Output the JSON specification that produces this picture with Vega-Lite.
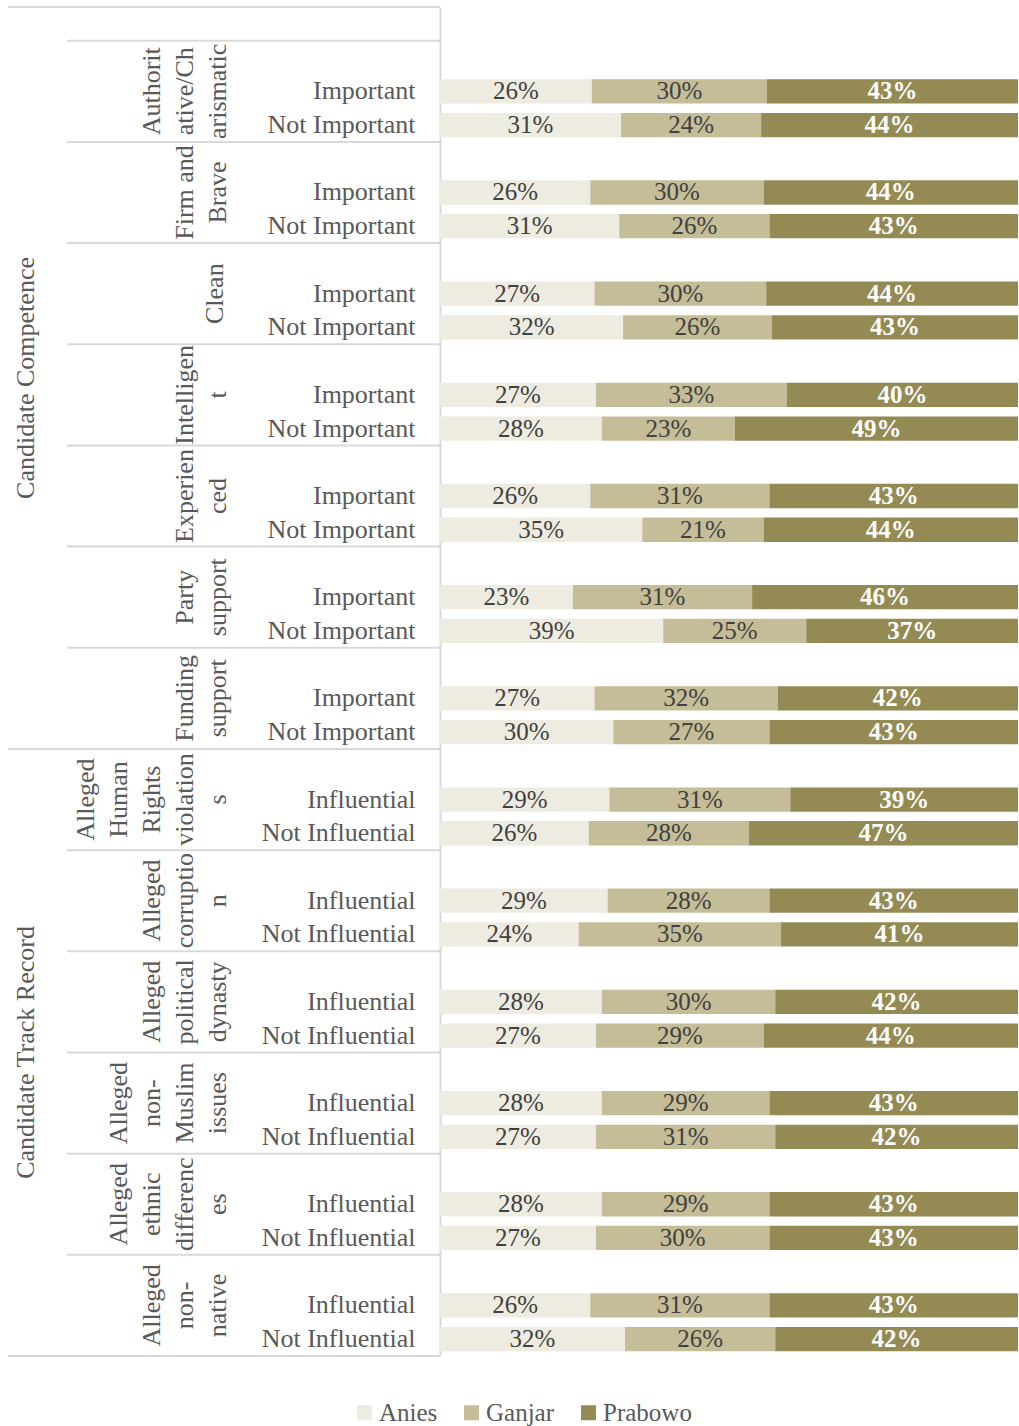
{
  "$schema": "https://vega.github.io/schema/vega-lite/v6.json",
  "width": 578,
  "height": 1349,
  "autosize": {"type": "none"},
  "padding": {"left": 440, "top": 7, "right": 1, "bottom": 70},
  "background": "white",
  "config": {"view": {"stroke": null}, "font": "Liberation Serif"},
  "datasets": {
    "attrs": [
      {"attr": "Authoritative/Charismatic", "label": "Authorit\native/Ch\narismatic", "top": "Authoritative/Charismatic|", "mid": "Authoritative/Charismatic|Important"},
      {"attr": "Firm and Brave", "label": "Firm and\nBrave", "top": "Firm and Brave|", "mid": "Firm and Brave|Important"},
      {"attr": "Clean", "label": "Clean", "top": "Clean|", "mid": "Clean|Important"},
      {"attr": "Intelligent", "label": "Intelligen\nt", "top": "Intelligent|", "mid": "Intelligent|Important"},
      {"attr": "Experienced", "label": "Experien\nced", "top": "Experienced|", "mid": "Experienced|Important"},
      {"attr": "Party support", "label": "Party\nsupport", "top": "Party support|", "mid": "Party support|Important"},
      {"attr": "Funding support", "label": "Funding\nsupport", "top": "Funding support|", "mid": "Funding support|Important"},
      {"attr": "Alleged Human Rights violations", "label": "Alleged\nHuman\nRights\nviolation\ns", "top": "Alleged Human Rights violations|", "mid": "Alleged Human Rights violations|Influential"},
      {"attr": "Alleged corruption", "label": "Alleged\ncorruptio\nn", "top": "Alleged corruption|", "mid": "Alleged corruption|Influential"},
      {"attr": "Alleged political dynasty", "label": "Alleged\npolitical\ndynasty", "top": "Alleged political dynasty|", "mid": "Alleged political dynasty|Influential"},
      {"attr": "Alleged non-Muslim issues", "label": "Alleged\nnon-\nMuslim\nissues", "top": "Alleged non-Muslim issues|", "mid": "Alleged non-Muslim issues|Influential"},
      {"attr": "Alleged ethnic differences", "label": "Alleged\nethnic\ndifferenc\nes", "top": "Alleged ethnic differences|", "mid": "Alleged ethnic differences|Influential"},
      {"attr": "Alleged non-native", "label": "Alleged\nnon-\nnative", "top": "Alleged non-native|", "mid": "Alleged non-native|Influential"}
    ],
    "groups": [
      {"group": "Candidate Competence", "first": "top|", "last": "Funding support|Not Important", "mid": "Intelligent|Important"},
      {"group": "Candidate Track Record", "first": "Alleged Human Rights violations|", "last": "Alleged non-native|Not Influential", "mid": "Alleged non-Muslim issues|"}
    ],
    "bars": [
      {"row": "Authoritative/Charismatic|Important", "cand": "Anies", "v": 0.26},
      {"row": "Authoritative/Charismatic|Important", "cand": "Ganjar", "v": 0.30},
      {"row": "Authoritative/Charismatic|Important", "cand": "Prabowo", "v": 0.43},
      {"row": "Authoritative/Charismatic|Not Important", "cand": "Anies", "v": 0.31},
      {"row": "Authoritative/Charismatic|Not Important", "cand": "Ganjar", "v": 0.24},
      {"row": "Authoritative/Charismatic|Not Important", "cand": "Prabowo", "v": 0.44},
      {"row": "Firm and Brave|Important", "cand": "Anies", "v": 0.26},
      {"row": "Firm and Brave|Important", "cand": "Ganjar", "v": 0.30},
      {"row": "Firm and Brave|Important", "cand": "Prabowo", "v": 0.44},
      {"row": "Firm and Brave|Not Important", "cand": "Anies", "v": 0.31},
      {"row": "Firm and Brave|Not Important", "cand": "Ganjar", "v": 0.26},
      {"row": "Firm and Brave|Not Important", "cand": "Prabowo", "v": 0.43},
      {"row": "Clean|Important", "cand": "Anies", "v": 0.27},
      {"row": "Clean|Important", "cand": "Ganjar", "v": 0.30},
      {"row": "Clean|Important", "cand": "Prabowo", "v": 0.44},
      {"row": "Clean|Not Important", "cand": "Anies", "v": 0.32},
      {"row": "Clean|Not Important", "cand": "Ganjar", "v": 0.26},
      {"row": "Clean|Not Important", "cand": "Prabowo", "v": 0.43},
      {"row": "Intelligent|Important", "cand": "Anies", "v": 0.27},
      {"row": "Intelligent|Important", "cand": "Ganjar", "v": 0.33},
      {"row": "Intelligent|Important", "cand": "Prabowo", "v": 0.40},
      {"row": "Intelligent|Not Important", "cand": "Anies", "v": 0.28},
      {"row": "Intelligent|Not Important", "cand": "Ganjar", "v": 0.23},
      {"row": "Intelligent|Not Important", "cand": "Prabowo", "v": 0.49},
      {"row": "Experienced|Important", "cand": "Anies", "v": 0.26},
      {"row": "Experienced|Important", "cand": "Ganjar", "v": 0.31},
      {"row": "Experienced|Important", "cand": "Prabowo", "v": 0.43},
      {"row": "Experienced|Not Important", "cand": "Anies", "v": 0.35},
      {"row": "Experienced|Not Important", "cand": "Ganjar", "v": 0.21},
      {"row": "Experienced|Not Important", "cand": "Prabowo", "v": 0.44},
      {"row": "Party support|Important", "cand": "Anies", "v": 0.23},
      {"row": "Party support|Important", "cand": "Ganjar", "v": 0.31},
      {"row": "Party support|Important", "cand": "Prabowo", "v": 0.46},
      {"row": "Party support|Not Important", "cand": "Anies", "v": 0.39},
      {"row": "Party support|Not Important", "cand": "Ganjar", "v": 0.25},
      {"row": "Party support|Not Important", "cand": "Prabowo", "v": 0.37},
      {"row": "Funding support|Important", "cand": "Anies", "v": 0.27},
      {"row": "Funding support|Important", "cand": "Ganjar", "v": 0.32},
      {"row": "Funding support|Important", "cand": "Prabowo", "v": 0.42},
      {"row": "Funding support|Not Important", "cand": "Anies", "v": 0.30},
      {"row": "Funding support|Not Important", "cand": "Ganjar", "v": 0.27},
      {"row": "Funding support|Not Important", "cand": "Prabowo", "v": 0.43},
      {"row": "Alleged Human Rights violations|Influential", "cand": "Anies", "v": 0.29},
      {"row": "Alleged Human Rights violations|Influential", "cand": "Ganjar", "v": 0.31},
      {"row": "Alleged Human Rights violations|Influential", "cand": "Prabowo", "v": 0.39},
      {"row": "Alleged Human Rights violations|Not Influential", "cand": "Anies", "v": 0.26},
      {"row": "Alleged Human Rights violations|Not Influential", "cand": "Ganjar", "v": 0.28},
      {"row": "Alleged Human Rights violations|Not Influential", "cand": "Prabowo", "v": 0.47},
      {"row": "Alleged corruption|Influential", "cand": "Anies", "v": 0.29},
      {"row": "Alleged corruption|Influential", "cand": "Ganjar", "v": 0.28},
      {"row": "Alleged corruption|Influential", "cand": "Prabowo", "v": 0.43},
      {"row": "Alleged corruption|Not Influential", "cand": "Anies", "v": 0.24},
      {"row": "Alleged corruption|Not Influential", "cand": "Ganjar", "v": 0.35},
      {"row": "Alleged corruption|Not Influential", "cand": "Prabowo", "v": 0.41},
      {"row": "Alleged political dynasty|Influential", "cand": "Anies", "v": 0.28},
      {"row": "Alleged political dynasty|Influential", "cand": "Ganjar", "v": 0.30},
      {"row": "Alleged political dynasty|Influential", "cand": "Prabowo", "v": 0.42},
      {"row": "Alleged political dynasty|Not Influential", "cand": "Anies", "v": 0.27},
      {"row": "Alleged political dynasty|Not Influential", "cand": "Ganjar", "v": 0.29},
      {"row": "Alleged political dynasty|Not Influential", "cand": "Prabowo", "v": 0.44},
      {"row": "Alleged non-Muslim issues|Influential", "cand": "Anies", "v": 0.28},
      {"row": "Alleged non-Muslim issues|Influential", "cand": "Ganjar", "v": 0.29},
      {"row": "Alleged non-Muslim issues|Influential", "cand": "Prabowo", "v": 0.43},
      {"row": "Alleged non-Muslim issues|Not Influential", "cand": "Anies", "v": 0.27},
      {"row": "Alleged non-Muslim issues|Not Influential", "cand": "Ganjar", "v": 0.31},
      {"row": "Alleged non-Muslim issues|Not Influential", "cand": "Prabowo", "v": 0.42},
      {"row": "Alleged ethnic differences|Influential", "cand": "Anies", "v": 0.28},
      {"row": "Alleged ethnic differences|Influential", "cand": "Ganjar", "v": 0.29},
      {"row": "Alleged ethnic differences|Influential", "cand": "Prabowo", "v": 0.43},
      {"row": "Alleged ethnic differences|Not Influential", "cand": "Anies", "v": 0.27},
      {"row": "Alleged ethnic differences|Not Influential", "cand": "Ganjar", "v": 0.30},
      {"row": "Alleged ethnic differences|Not Influential", "cand": "Prabowo", "v": 0.43},
      {"row": "Alleged non-native|Influential", "cand": "Anies", "v": 0.26},
      {"row": "Alleged non-native|Influential", "cand": "Ganjar", "v": 0.31},
      {"row": "Alleged non-native|Influential", "cand": "Prabowo", "v": 0.43},
      {"row": "Alleged non-native|Not Influential", "cand": "Anies", "v": 0.32},
      {"row": "Alleged non-native|Not Influential", "cand": "Ganjar", "v": 0.26},
      {"row": "Alleged non-native|Not Influential", "cand": "Prabowo", "v": 0.42}
    ]
  },
  "layer": [
    {
      "data": {"name": "bars"},
      "mark": {"type": "bar", "height": {"band": 0.72}},
      "encoding": {
        "x": {"field": "v", "type": "quantitative", "stack": "normalize", "scale": {"domain": [0, 1]}, "axis": null},
        "y": {
          "field": "row", "type": "nominal",
          "scale": {
            "paddingInner": 0, "paddingOuter": 0,
            "domain": [
              "top|",
              "Authoritative/Charismatic|", "Authoritative/Charismatic|Important", "Authoritative/Charismatic|Not Important",
              "Firm and Brave|", "Firm and Brave|Important", "Firm and Brave|Not Important",
              "Clean|", "Clean|Important", "Clean|Not Important",
              "Intelligent|", "Intelligent|Important", "Intelligent|Not Important",
              "Experienced|", "Experienced|Important", "Experienced|Not Important",
              "Party support|", "Party support|Important", "Party support|Not Important",
              "Funding support|", "Funding support|Important", "Funding support|Not Important",
              "Alleged Human Rights violations|", "Alleged Human Rights violations|Influential", "Alleged Human Rights violations|Not Influential",
              "Alleged corruption|", "Alleged corruption|Influential", "Alleged corruption|Not Influential",
              "Alleged political dynasty|", "Alleged political dynasty|Influential", "Alleged political dynasty|Not Influential",
              "Alleged non-Muslim issues|", "Alleged non-Muslim issues|Influential", "Alleged non-Muslim issues|Not Influential",
              "Alleged ethnic differences|", "Alleged ethnic differences|Influential", "Alleged ethnic differences|Not Influential",
              "Alleged non-native|", "Alleged non-native|Influential", "Alleged non-native|Not Influential"
            ]
          },
          "axis": {
            "title": null, "ticks": false, "grid": false,
            "domainColor": "#D9D9D9", "domainWidth": 2,
            "labelFont": "Liberation Serif", "labelFontSize": 26, "labelColor": "#595959",
            "labelPadding": 25, "labelLimit": 400, "labelOverlap": false,
            "labelExpr": "split(datum.value, '|')[1]"
          }
        },
        "color": {
          "field": "cand", "type": "nominal",
          "scale": {"domain": ["Anies", "Ganjar", "Prabowo"], "range": ["#EEECE1", "#C4BD97", "#948A54"]},
          "legend": {
            "orient": "none", "legendX": -88, "legendY": 1393, "direction": "horizontal",
            "title": null, "symbolType": "square", "symbolSize": 225, "symbolStrokeWidth": 0,
            "labelFont": "Liberation Serif", "labelFontSize": 25, "labelColor": "#595959",
            "labelOffset": 2, "columnPadding": 21, "padding": 0
          }
        },
        "order": {"field": "cand", "type": "ordinal", "sort": "ascending"}
      }
    },
    {
      "data": {"name": "bars"},
      "mark": {"type": "text", "fontSize": 25, "baseline": "middle", "font": "Liberation Serif"},
      "encoding": {
        "x": {"field": "v", "type": "quantitative", "stack": "normalize", "bandPosition": 0.5},
        "y": {"field": "row", "type": "nominal"},
        "detail": {"field": "cand"},
        "order": {"field": "cand", "type": "ordinal", "sort": "ascending"},
        "text": {"field": "v", "type": "quantitative", "format": ".0%"},
        "color": {"condition": {"test": "datum.cand === 'Prabowo'", "value": "transparent"}, "value": "#404040"}
      }
    },
    {
      "data": {"name": "bars"},
      "mark": {"type": "text", "fontSize": 25, "fontWeight": "bold", "baseline": "middle", "font": "Liberation Serif"},
      "encoding": {
        "x": {"field": "v", "type": "quantitative", "stack": "normalize", "bandPosition": 0.5},
        "y": {"field": "row", "type": "nominal"},
        "detail": {"field": "cand"},
        "order": {"field": "cand", "type": "ordinal", "sort": "ascending"},
        "text": {"field": "v", "type": "quantitative", "format": ".0%"},
        "color": {"condition": {"test": "datum.cand === 'Prabowo'", "value": "#FFFFFF"}, "value": "transparent"}
      }
    },
    {
      "data": {"name": "attrs"},
      "mark": {"type": "rule", "color": "#D9D9D9", "strokeWidth": 2},
      "encoding": {
        "x": {"datum": -0.6453, "type": "quantitative"},
        "x2": {"datum": 0},
        "y": {"field": "top", "type": "nominal", "bandPosition": 0}
      }
    },
    {
      "data": {"name": "groups"},
      "mark": {"type": "rule", "color": "#D9D9D9", "strokeWidth": 2},
      "encoding": {
        "x": {"datum": -0.7474, "type": "quantitative"},
        "x2": {"datum": 0},
        "y": {"field": "first", "type": "nominal", "bandPosition": 0}
      }
    },
    {
      "data": {"name": "groups"},
      "mark": {"type": "rule", "color": "#D9D9D9", "strokeWidth": 2},
      "encoding": {
        "x": {"datum": -0.7474, "type": "quantitative"},
        "x2": {"datum": 0},
        "y": {"field": "last", "type": "nominal", "bandPosition": 1}
      }
    },
    {
      "data": {"name": "attrs"},
      "transform": [{"filter": "length(split(datum.label, '\\n')) == 1"}],
      "mark": {"type": "text", "angle": 270, "align": "center", "baseline": "alphabetic", "lineBreak": "\n", "lineHeight": 33, "fontSize": 26, "font": "Liberation Serif", "color": "#595959"},
      "encoding": {
        "x": {"datum": -0.3755, "type": "quantitative"},
        "y": {"field": "mid", "type": "nominal", "bandPosition": 0.5},
        "text": {"field": "label"}
      }
    },
    {
      "data": {"name": "attrs"},
      "transform": [{"filter": "length(split(datum.label, '\\n')) == 2"}],
      "mark": {"type": "text", "angle": 270, "align": "center", "baseline": "alphabetic", "lineBreak": "\n", "lineHeight": 33, "fontSize": 26, "font": "Liberation Serif", "color": "#595959"},
      "encoding": {
        "x": {"datum": -0.4273, "type": "quantitative"},
        "y": {"field": "mid", "type": "nominal", "bandPosition": 0.5},
        "text": {"field": "label"}
      }
    },
    {
      "data": {"name": "attrs"},
      "transform": [{"filter": "length(split(datum.label, '\\n')) == 3"}],
      "mark": {"type": "text", "angle": 270, "align": "center", "baseline": "alphabetic", "lineBreak": "\n", "lineHeight": 33, "fontSize": 26, "font": "Liberation Serif", "color": "#595959"},
      "encoding": {
        "x": {"datum": -0.4844, "type": "quantitative"},
        "y": {"field": "mid", "type": "nominal", "bandPosition": 0.5},
        "text": {"field": "label"}
      }
    },
    {
      "data": {"name": "attrs"},
      "transform": [{"filter": "length(split(datum.label, '\\n')) == 4"}],
      "mark": {"type": "text", "angle": 270, "align": "center", "baseline": "alphabetic", "lineBreak": "\n", "lineHeight": 33, "fontSize": 26, "font": "Liberation Serif", "color": "#595959"},
      "encoding": {
        "x": {"datum": -0.5415, "type": "quantitative"},
        "y": {"field": "mid", "type": "nominal", "bandPosition": 0.5},
        "text": {"field": "label"}
      }
    },
    {
      "data": {"name": "attrs"},
      "transform": [{"filter": "length(split(datum.label, '\\n')) == 5"}],
      "mark": {"type": "text", "angle": 270, "align": "center", "baseline": "alphabetic", "lineBreak": "\n", "lineHeight": 33, "fontSize": 26, "font": "Liberation Serif", "color": "#595959"},
      "encoding": {
        "x": {"datum": -0.5986, "type": "quantitative"},
        "y": {"field": "mid", "type": "nominal", "bandPosition": 0.5},
        "text": {"field": "label"}
      }
    },
    {
      "data": {"name": "groups"},
      "mark": {"type": "text", "angle": 270, "align": "center", "baseline": "alphabetic", "fontSize": 26, "font": "Liberation Serif", "color": "#595959"},
      "encoding": {
        "x": {"datum": -0.702, "type": "quantitative"},
        "y": {"field": "mid", "type": "nominal", "bandPosition": 0},
        "text": {"field": "group"}
      }
    }
  ]
}
